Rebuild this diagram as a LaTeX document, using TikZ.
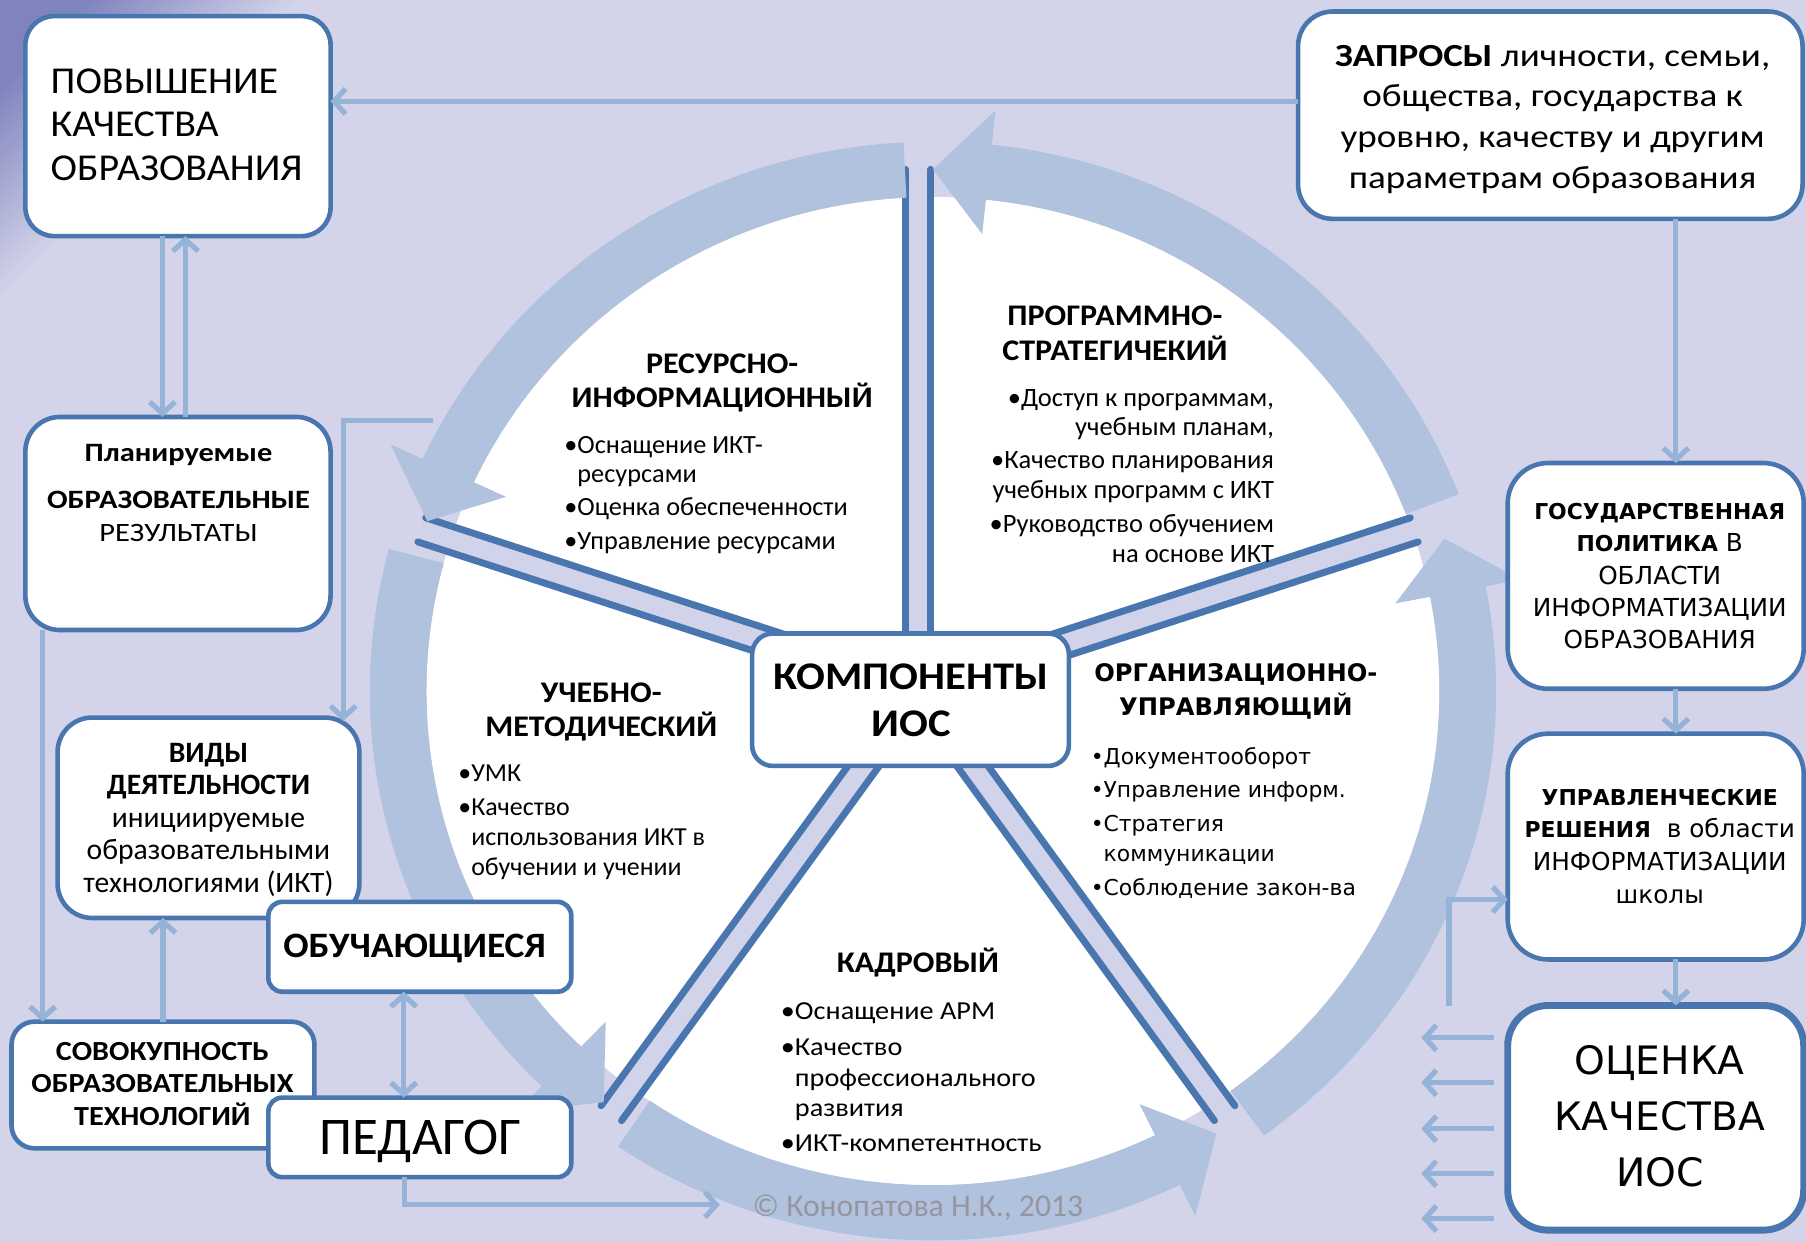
\documentclass[tikz,border=0pt]{standalone}
\usepackage{fontspec}
\setmainfont{Carlito}
\newfontfamily\vfont{DejaVu Sans}
\newfontfamily\cA{Carlito}[FakeStretch=1.05]
\newfontfamily\cB{Carlito}[FakeStretch=1.09]
\newfontfamily\cC{Carlito}[FakeStretch=1.15]
\newfontfamily\cH{Carlito}[FakeStretch=1.07]
\usetikzlibrary{arrows.meta,calc}
\definecolor{bg}{RGB}{211,212,234}
\definecolor{ringc}{RGB}{176,194,222}
\definecolor{conncol}{RGB}{149,179,215}
\definecolor{bord}{RGB}{74,118,175}
\definecolor{spk}{RGB}{208,211,234}
\definecolor{copyc}{RGB}{150,150,160}
\definecolor{deco}{RGB}{128,132,190}
\newcommand\fsz[2]{\fontsize{#1}{#2}\selectfont}
\newcommand\vb[1]{{\fontsize{19}{28}\selectfont\bfseries #1}}
\begin{document}
\begin{tikzpicture}[x=1pt,y=-1pt,
  >={Straight Barb[length=10pt,width=22pt]},
  box/.style={draw=bord, line width=4pt, fill=white, rounded corners=#1, outer sep=0pt, inner sep=0pt},
  box/.default=25pt,
  conn/.style={draw=conncol, line width=4.5pt, ->},
  dconn/.style={draw=conncol, line width=4.5pt, <->},
  txt/.style={inner sep=0pt, outer sep=0pt, text=black},
]
\path[use as bounding box, fill=bg] (0,0) rectangle (1568,1078);
% corner decoration
\begin{scope}
 \clip (0,0) -- (260,0) -- (0,260) -- cycle;
 \shade[top color=deco, bottom color=bg, middle color=bg, shading angle=45] (0,0) rectangle (260,260);
\end{scope}
% white disk
\begin{scope}[shift={(810,600)}, xscale=1.025, yscale=-1]
 \fill[white] (0,0) circle[radius=429];
\end{scope}
% spokes
\begin{scope}[shift={(797,600)}]
 \foreach \p in {90,162,234,306,18}{
  \begin{scope}[rotate=\p]
   \fill[spk] (0,-11) rectangle (453,11);
   \draw[bord, line width=6pt, line cap=round] (0,-11) -- (453,-11) (0,11) -- (453,11);
  \end{scope}}
\end{scope}
% ring arrows
\begin{scope}[shift={(810,600)}, xscale=1.025, yscale=-1]
 \foreach \a/\b in {93/161,21/90,-54/17,236/302,165/232}{
  \pgfmathsetmacro\c{\b-6}
  \fill[ringc] (\a:429) arc[start angle=\a, end angle=\c, radius=429] -- (\c:399) -- (\b:453) -- (\c:507) -- (\c:477) arc[start angle=\c, end angle=\a, radius=477] -- cycle;
 }
\end{scope}
% boxes
\node[box=25pt, minimum width=265pt, minimum height=191pt] (povysh) at (154.5,109.5) {};
\node[box=30pt, minimum width=438pt, minimum height=180pt] (zapros) at (1346,100) {};
\node[box=30pt, minimum width=265pt, minimum height=185pt] (plan) at (154.5,454.5) {};
\node[box=30pt, minimum width=262pt, minimum height=174pt] (vidy) at (181,710) {};
\node[box=12pt, minimum width=263pt, minimum height=78pt] (obuch) at (364.5,822) {};
\node[box=20pt, minimum width=263pt, minimum height=110pt] (sovok) at (141.5,942) {};
\node[box=12pt, minimum width=263pt, minimum height=69pt] (pedag) at (364.5,987.5) {};
\node[box=18pt, minimum width=275pt, minimum height=115pt] (komp) at (790.5,607.5) {};
\node[box=35pt, minimum width=257pt, minimum height=196pt] (gos) at (1437.5,500) {};
\node[box=35pt, minimum width=257pt, minimum height=196pt] (upr) at (1437.5,735) {};
\node[box=35pt, line width=6pt, minimum width=257pt, minimum height=195pt] (ocen) at (1437.5,970.5) {};
% connectors
\draw[conn] ([yshift=12pt]zapros.west) -- ([yshift=12pt]zapros.west -| povysh.east);
\draw[conn] ([xshift=-13.5pt]povysh.south) -- ([xshift=-13.5pt]plan.north);
\draw[conn] ([xshift=6.5pt]plan.north) -- ([xshift=6.5pt]povysh.south);
\coordinate (pv) at (376,365);
\coordinate (vin) at (298,626);
\draw[conn] (pv) -| (vin);
\draw[conn] ([xshift=15pt]plan.south west) -- ([xshift=15pt]plan.south west |- sovok.north);
\draw[conn] (sovok.north) -- (sovok.north |- vidy.south);
\draw[dconn] ([xshift=-14pt]obuch.south) -- ([xshift=-14pt]pedag.north);
\coordinate (kin) at (625,1046);
\draw[conn] ([xshift=-13pt]pedag.south) |- (kin);
\coordinate (colx) at (1455,0);
\draw[conn] (zapros.south -| colx) -- (gos.north -| colx);
\draw[conn] (gos.south -| colx) -- (upr.north -| colx);
\draw[conn] (upr.south -| colx) -- (ocen.north -| colx);
\foreach \yy [count=\i] in {901,940,980,1019,1058}{
  \coordinate (e\i) at (1234,\yy);
  \draw[conn] ([xshift=-12pt]ocen.west |- e\i) -- (e\i);
}
\coordinate (lst) at (1258,873);
\draw[conn] (lst) |- ([yshift=-46pt]upr.west);
% box texts
\node[txt, anchor=north west, align=left, font=\cA\fsz{33}{38}] (tpov) at (44,59.4) {ПОВЫШЕНИЕ\\КАЧЕСТВА\\ОБРАЗОВАНИЯ};
\node[txt, anchor=north, align=center, font=\cC\fsz{28}{35.3}] (tzap) at (1348,39) {\textbf{ЗАПРОСЫ} личности, семьи,\\общества, государства к\\уровню, качеству и другим\\параметрам образования};
\node[txt, anchor=north, align=center, font=\cC\fsz{23}{29}] (tplan) at (155,385.6) {\textbf{Планируемые}\\[12pt]\textbf{ОБРАЗОВАТЕЛЬНЫЕ}\\РЕЗУЛЬТАТЫ};
\node[txt, anchor=north, align=center, font=\fsz{25.7}{28.25}] (tvidy) at (181,645) {\textbf{ВИДЫ}\\\textbf{ДЕЯТЕЛЬНОСТИ}\\инициируемые\\образовательными\\технологиями (ИКТ)};
\node[txt, anchor=north, align=center, font=\cB\fsz{24}{28}\bfseries] (tsovok) at (141,905) {СОВОКУПНОСТЬ\\ОБРАЗОВАТЕЛЬНЫХ\\ТЕХНОЛОГИЙ};
\node[txt, anchor=north, font=\cA\fsz{31}{36}\bfseries] (tobuch) at (360,811) {ОБУЧАЮЩИЕСЯ};
\node[txt, anchor=north, font=\fsz{46}{50}] (tpedag) at (365,972.5) {ПЕДАГОГ};
\node[txt, anchor=north, align=center, font=\cB\fsz{34}{41}\bfseries] (tkomp) at (791,576) {КОМПОНЕНТЫ\\ИОС};
\node[txt, anchor=north, align=center, font=\vfont\fsz{21.5}{28}] (tgos) at (1441,437) {\vb{ГОСУДАРСТВЕННАЯ}\\\vb{ПОЛИТИКА} В\\ОБЛАСТИ\\ИНФОРМАТИЗАЦИИ\\ОБРАЗОВАНИЯ};
\node[txt, anchor=north, align=center, font=\vfont\fsz{21.5}{28.3}] (tupr) at (1441,685) {\vb{УПРАВЛЕНЧЕСКИЕ}\\\vb{РЕШЕНИЯ}~ в области\\ИНФОРМАТИЗАЦИИ\\школы};
\node[txt, anchor=north, align=center, font=\vfont\fsz{34}{48.5}] (tocen) at (1441,907.6) {ОЦЕНКА\\КАЧЕСТВА\\ИОС};
% sector texts
\node[txt, anchor=north, align=center, font=\cH\fsz{26}{29}\bfseries] (hres) at (627,307.6) {РЕСУРСНО-\\ИНФОРМАЦИОННЫЙ};
\node[txt, anchor=north west, align=left, font=\fsz{22.8}{25}] (bres) at (490,378.7) {•Оснащение ИКТ-\\\hphantom{•}ресурсами\\[4.5pt]•Оценка обеспеченности\\[4.5pt]•Управление ресурсами};
\node[txt, anchor=north, align=center, font=\cH\fsz{26}{30}\bfseries] (hprog) at (968,265.6) {ПРОГРАММНО-\\СТРАТЕГИЧЕКИЙ};
\node[txt, anchor=north east, align=right, font=\fsz{23}{25.5}] (bprog) at (1106,337.8) {•Доступ к программам,\\учебным планам,\\[3.5pt]•Качество планирования\\учебных программ с ИКТ\\[4.5pt]•Руководство обучением\\на основе ИКТ};
\node[txt, anchor=north, align=center, font=\cH\fsz{26}{30}\bfseries] (huch) at (522,592.6) {УЧЕБНО-\\МЕТОДИЧЕСКИЙ};
\node[txt, anchor=north west, align=left, font=\fsz{22.5}{26}] (buch) at (398,663.8) {•УМК\\[4pt]•Качество\\\hphantom{•}использования ИКТ в\\\hphantom{•}обучении и учении};
\node[txt, anchor=north, align=center, font=\vfont\fsz{21}{30}\bfseries] (horg) at (1073,576) {ОРГАНИЗАЦИОННО-\\УПРАВЛЯЮЩИЙ};
\node[txt, anchor=north west, align=left, font=\vfont\fsz{19}{29}] (borg) at (947,649) {•Документооборот\\•Управление информ.\\•Стратегия\\[-3pt]\hphantom{•}коммуникации\\[1pt]•Соблюдение закон-ва};
\node[txt, anchor=base, font=\cH\fsz{26}{30}\bfseries] (hkadr) at (797,844.4) {КАДРОВЫЙ};
\node[txt, anchor=north west, align=left, font=\cB\fsz{22.5}{26.5}] (bkadr) at (678,870.8) {•Оснащение АРМ\\[4.5pt]•Качество\\\hphantom{•}профессионального\\\hphantom{•}развития\\[4pt]•ИКТ-компетентность};
\node[txt, anchor=north, font=\fsz{27.5}{32}, text=copyc] (copy) at (797,1037) {© Конопатова Н.К., 2013};
\end{tikzpicture}
\end{document}
